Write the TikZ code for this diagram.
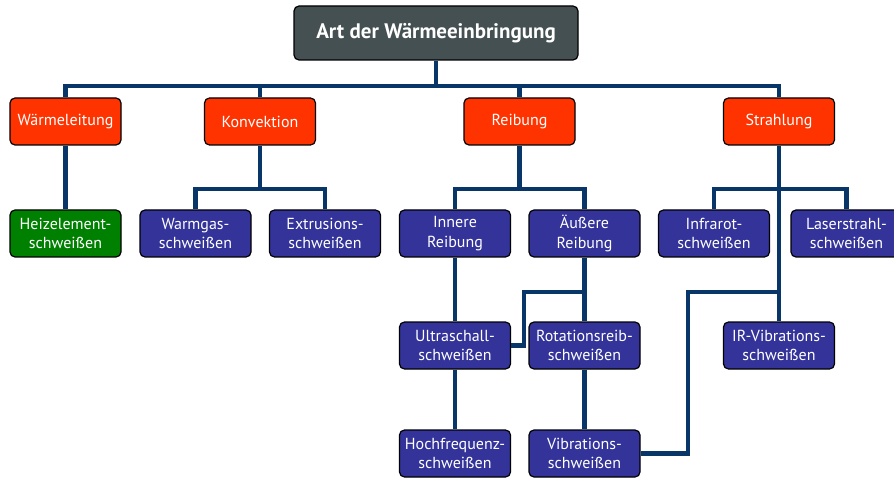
\documentclass[tikz,border=0pt]{standalone}
\usepackage{fontspec}
\setmainfont{PT Sans}
\usetikzlibrary{calc,positioning}
\definecolor{rootgray}{RGB}{69,80,82}
\definecolor{catred}{RGB}{255,51,0}
\definecolor{procblue}{RGB}{51,51,153}
\definecolor{procgreen}{RGB}{0,128,0}
\definecolor{linkblue}{RGB}{8,54,104}
\tikzset{
  box/.style={draw=black,line width=1.2pt,rounded corners=5pt,text=white,align=center,
    minimum width=111pt,minimum height=47pt,inner sep=1pt,font=\fontsize{16}{19.5}\selectfont},
  cat/.style={box,fill=catred},
  proc/.style={box,fill=procblue},
  procg/.style={box,fill=procgreen},
  link/.style={draw=linkblue,line width=4.2pt}
}

\begin{document}
\begin{tikzpicture}[x=1pt,y=-1pt]
\useasboundingbox (0,0) rectangle (894,478);
\coordinate (bus) at (0,86);
\node[box,fill=rootgray,minimum width=284pt,minimum height=54pt,font=\fontsize{21}{24}\selectfont\bfseries] (root) at (436,33) {Art der Wärmeeinbringung};
% erste Ebene
\node[cat] (waerme) at (65.5,121.5) {Wärmeleitung};
\node[cat] (konv) at (260,121.5) {Konvektion};
\node[cat] (reib) at (519.5,121.5) {Reibung};
\node[cat] (strahl) at (779,121.5) {Strahlung};
% zweite Ebene
\node[procg] (heiz) at (65.5,233.5) {Heizelement-\\schweißen};
\node[proc] (warm) at (195.5,233.5) {Warmgas-\\schweißen};
\node[proc] (extr) at (325,233.5) {Extrusions-\\schweißen};
\node[proc] (inner) at (455,233.5) {Innere\\Reibung};
\node[proc] (outer) at (584.5,233.5) {Äußere\\Reibung};
\node[proc] (infra) at (714,233.5) {Infrarot-\\schweißen};
\node[proc] (laser) at (846.5,233.5) {Laserstrahl-\\schweißen};
% dritte und vierte Ebene
\node[proc] (ultra) at (455,345.5) {Ultraschall-\\schweißen};
\node[proc] (rot) at (584.5,345.5) {Rotationsreib-\\schweißen};
\node[proc] (irvib) at (779,345.5) {IR-Vibrations-\\schweißen};
\node[proc] (hoch) at (455,453.5) {Hochfrequenz-\\schweißen};
\node[proc] (vib) at (584.5,453.5) {Vibrations-\\schweißen};
% Verbindungen
\draw[link] (root.south) -- (root.south |- bus);
\draw[link] (waerme.north) |- (strahl.north |- bus) -- (strahl.north);
\draw[link] (konv.north) -- (konv.north |- bus) (reib.north) -- (reib.north |- bus);
\draw[link] (warm.north) -- ++(0,-20) coordinate (kb) -| (extr.north) (konv.south) -- (konv.south |- kb);
\draw[link] (inner.north) -- ++(0,-20) coordinate (rb) -| (outer.north) (reib.south) -- (reib.south |- rb);
\draw[link] (infra.north) -- ++(0,-20) coordinate (sb) -| (laser.north) (strahl.south) -- (irvib.north);
\foreach \a/\b in {waerme/heiz,inner/ultra,outer/rot,ultra/hoch,rot/vib}{\draw[link] (\a.south) -- (\b.north);}
\draw[link] (ultra.east) -- ++(13,0) |- ($(rot.north)+(0,-29)$);
\draw[link] (vib.east) -- ++(47,0) |- ($(irvib.north)+(0,-29)$);
\end{tikzpicture}
\end{document}
